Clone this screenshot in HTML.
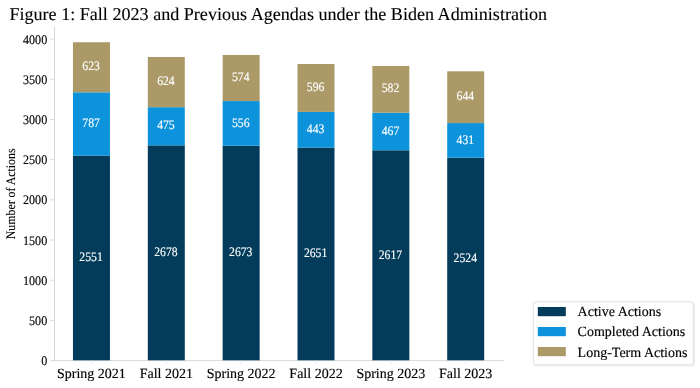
<!DOCTYPE html>
<html><head><meta charset="utf-8"><style>
html,body{margin:0;padding:0;background:#fff;}
body{width:700px;height:388px;overflow:hidden;}
svg{display:block;will-change:transform;}
text{font-family:"Liberation Serif", serif;text-rendering:geometricPrecision;}
.tk{font-size:13px;fill:#000;stroke:#000;stroke-width:0.15px;}
.vl{font-size:13px;fill:#fff;stroke:#fff;stroke-width:0.15px;}
.xl{font-size:14px;fill:#000;stroke:#000;stroke-width:0.15px;}
.yl{font-size:13px;fill:#000;stroke:#000;stroke-width:0.12px;}
.tt{font-size:18.1px;fill:#000;stroke:#000;stroke-width:0.12px;}
.lg{font-size:14px;fill:#000;stroke:#000;stroke-width:0.15px;}
</style></head><body>
<svg width="700" height="388" viewBox="0 0 700 388">
<line x1="54.5" y1="26.2" x2="54.5" y2="361.1" stroke="#d9d9d9" stroke-width="1"/>
<line x1="54.0" y1="360.6" x2="503.9" y2="360.6" stroke="#d9d9d9" stroke-width="1"/>
<line x1="50.5" y1="360.60" x2="54.5" y2="360.60" stroke="#d9d9d9" stroke-width="1"/>
<text transform="translate(47.2,365.10) scale(0.93,1)" text-anchor="end" class="tk">0</text>
<line x1="50.5" y1="320.41" x2="54.5" y2="320.41" stroke="#d9d9d9" stroke-width="1"/>
<text transform="translate(47.2,324.91) scale(0.93,1)" text-anchor="end" class="tk">500</text>
<line x1="50.5" y1="280.23" x2="54.5" y2="280.23" stroke="#d9d9d9" stroke-width="1"/>
<text transform="translate(47.2,284.73) scale(0.93,1)" text-anchor="end" class="tk">1000</text>
<line x1="50.5" y1="240.04" x2="54.5" y2="240.04" stroke="#d9d9d9" stroke-width="1"/>
<text transform="translate(47.2,244.54) scale(0.93,1)" text-anchor="end" class="tk">1500</text>
<line x1="50.5" y1="199.85" x2="54.5" y2="199.85" stroke="#d9d9d9" stroke-width="1"/>
<text transform="translate(47.2,204.35) scale(0.93,1)" text-anchor="end" class="tk">2000</text>
<line x1="50.5" y1="159.66" x2="54.5" y2="159.66" stroke="#d9d9d9" stroke-width="1"/>
<text transform="translate(47.2,164.16) scale(0.93,1)" text-anchor="end" class="tk">2500</text>
<line x1="50.5" y1="119.48" x2="54.5" y2="119.48" stroke="#d9d9d9" stroke-width="1"/>
<text transform="translate(47.2,123.98) scale(0.93,1)" text-anchor="end" class="tk">3000</text>
<line x1="50.5" y1="79.29" x2="54.5" y2="79.29" stroke="#d9d9d9" stroke-width="1"/>
<text transform="translate(47.2,83.79) scale(0.93,1)" text-anchor="end" class="tk">3500</text>
<line x1="50.5" y1="39.10" x2="54.5" y2="39.10" stroke="#d9d9d9" stroke-width="1"/>
<text transform="translate(47.2,43.60) scale(0.93,1)" text-anchor="end" class="tk">4000</text>
<rect x="72.95" y="155.56" width="37.0" height="204.74" fill="#033c5a"/>
<rect x="72.95" y="92.31" width="37.0" height="63.26" fill="#0c93dc"/>
<rect x="72.95" y="42.23" width="37.0" height="50.07" fill="#ab9a67"/>
<text transform="translate(91.05,261.18) scale(0.9,1)" text-anchor="middle" class="vl">2551</text>
<text transform="translate(91.05,127.04) scale(0.9,1)" text-anchor="middle" class="vl">787</text>
<text transform="translate(91.05,70.37) scale(0.9,1)" text-anchor="middle" class="vl">623</text>
<line x1="91.45" y1="360.6" x2="91.45" y2="364.1" stroke="#e8e8e8" stroke-width="1"/>
<text x="91.45" y="378.4" text-anchor="middle" class="xl">Spring 2021</text>
<rect x="147.80" y="145.36" width="37.0" height="214.94" fill="#033c5a"/>
<rect x="147.80" y="107.18" width="37.0" height="38.18" fill="#0c93dc"/>
<rect x="147.80" y="57.02" width="37.0" height="50.15" fill="#ab9a67"/>
<text transform="translate(165.90,256.08) scale(0.9,1)" text-anchor="middle" class="vl">2678</text>
<text transform="translate(165.90,129.37) scale(0.9,1)" text-anchor="middle" class="vl">475</text>
<text transform="translate(165.90,85.20) scale(0.9,1)" text-anchor="middle" class="vl">624</text>
<line x1="166.30" y1="360.6" x2="166.30" y2="364.1" stroke="#e8e8e8" stroke-width="1"/>
<text x="166.30" y="378.4" text-anchor="middle" class="xl">Fall 2021</text>
<rect x="222.65" y="145.76" width="37.0" height="214.54" fill="#033c5a"/>
<rect x="222.65" y="101.07" width="37.0" height="44.69" fill="#0c93dc"/>
<rect x="222.65" y="54.93" width="37.0" height="46.14" fill="#ab9a67"/>
<text transform="translate(240.75,256.28) scale(0.9,1)" text-anchor="middle" class="vl">2673</text>
<text transform="translate(240.75,126.51) scale(0.9,1)" text-anchor="middle" class="vl">556</text>
<text transform="translate(240.75,81.10) scale(0.9,1)" text-anchor="middle" class="vl">574</text>
<line x1="241.15" y1="360.6" x2="241.15" y2="364.1" stroke="#e8e8e8" stroke-width="1"/>
<text x="241.15" y="378.4" text-anchor="middle" class="xl">Spring 2022</text>
<rect x="297.50" y="147.53" width="37.0" height="212.77" fill="#033c5a"/>
<rect x="297.50" y="111.92" width="37.0" height="35.61" fill="#0c93dc"/>
<rect x="297.50" y="64.02" width="37.0" height="47.90" fill="#ab9a67"/>
<text transform="translate(315.60,257.16) scale(0.9,1)" text-anchor="middle" class="vl">2651</text>
<text transform="translate(315.60,132.82) scale(0.9,1)" text-anchor="middle" class="vl">443</text>
<text transform="translate(315.60,91.07) scale(0.9,1)" text-anchor="middle" class="vl">596</text>
<line x1="316.00" y1="360.6" x2="316.00" y2="364.1" stroke="#e8e8e8" stroke-width="1"/>
<text x="316.00" y="378.4" text-anchor="middle" class="xl">Fall 2022</text>
<rect x="372.35" y="150.26" width="37.0" height="210.04" fill="#033c5a"/>
<rect x="372.35" y="112.72" width="37.0" height="37.54" fill="#0c93dc"/>
<rect x="372.35" y="65.95" width="37.0" height="46.78" fill="#ab9a67"/>
<text transform="translate(390.45,258.53) scale(0.9,1)" text-anchor="middle" class="vl">2617</text>
<text transform="translate(390.45,134.59) scale(0.9,1)" text-anchor="middle" class="vl">467</text>
<text transform="translate(390.45,92.43) scale(0.9,1)" text-anchor="middle" class="vl">582</text>
<line x1="390.85" y1="360.6" x2="390.85" y2="364.1" stroke="#e8e8e8" stroke-width="1"/>
<text x="390.85" y="378.4" text-anchor="middle" class="xl">Spring 2023</text>
<rect x="447.20" y="157.73" width="37.0" height="202.57" fill="#033c5a"/>
<rect x="447.20" y="123.09" width="37.0" height="34.64" fill="#0c93dc"/>
<rect x="447.20" y="71.33" width="37.0" height="51.76" fill="#ab9a67"/>
<text transform="translate(465.30,262.27) scale(0.9,1)" text-anchor="middle" class="vl">2524</text>
<text transform="translate(465.30,143.51) scale(0.9,1)" text-anchor="middle" class="vl">431</text>
<text transform="translate(465.30,100.31) scale(0.9,1)" text-anchor="middle" class="vl">644</text>
<line x1="465.70" y1="360.6" x2="465.70" y2="364.1" stroke="#e8e8e8" stroke-width="1"/>
<text x="465.70" y="378.4" text-anchor="middle" class="xl">Fall 2023</text>
<text transform="translate(15.1,193.85) rotate(-90) scale(0.91,1)" text-anchor="middle" class="yl">Number of Actions</text>
<text x="9.4" y="19.8" class="tt">Figure 1: Fall 2023 and Previous Agendas under the Biden Administration</text>
<rect x="534.5" y="303" width="160" height="63" rx="2.5" ry="2.5" fill="none" stroke="#f2f2f2" stroke-width="1.5"/>
<rect x="533.3" y="301.8" width="160" height="63" rx="2.5" ry="2.5" fill="#fff" stroke="#dedede" stroke-width="1"/>
<rect x="537.8" y="307" width="28" height="9.2" fill="#033c5a"/>
<text x="577.6" y="316.30" class="lg">Active Actions</text>
<rect x="537.8" y="327" width="28" height="9.2" fill="#0c93dc"/>
<text x="577.6" y="336.45" class="lg">Completed Actions</text>
<rect x="537.8" y="347" width="28" height="9.2" fill="#ab9a67"/>
<text x="577.6" y="356.60" class="lg">Long-Term Actions</text>
</svg>
</body></html>
